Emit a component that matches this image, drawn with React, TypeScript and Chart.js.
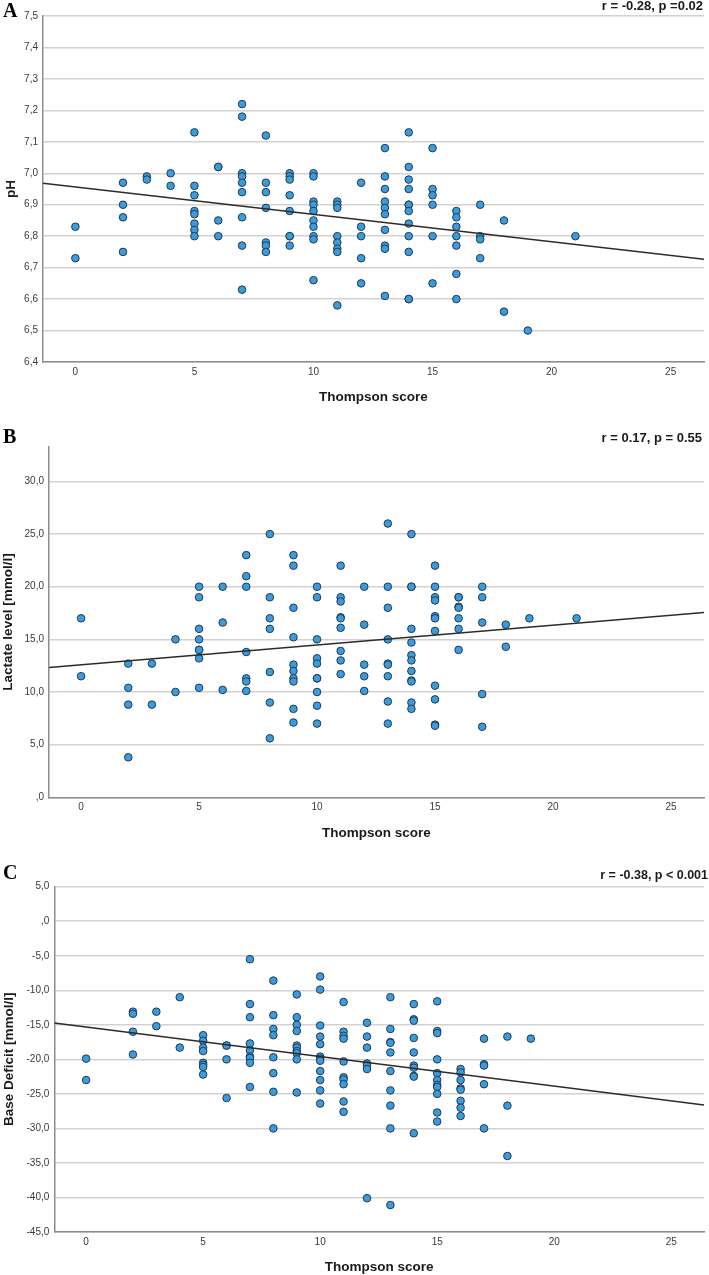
import React, { useEffect, useRef } from "react";
import { Chart, registerables } from "chart.js";

Chart.register(...registerables);

// ---------- shared x axis ----------
const xTickValues = [0, 5, 10, 15, 20, 25];
const xMin = -1.36;
const xMax = 26.4;

// ---------- Panel A: pH ----------
const phScores = [0, 2, 3, 4, 5, 6, 7, 8, 9, 10, 11, 12, 13, 14, 15, 16, 17, 18, 19, 21];
const phValues = [
  [6.83, 6.73],
  [6.97, 6.9, 6.86, 6.75],
  [6.99, 6.98],
  [7.0, 6.96],
  [7.13, 6.96, 6.93, 6.88, 6.87, 6.84, 6.82, 6.8],
  [7.02, 7.02, 6.85, 6.8],
  [7.22, 7.18, 7.0, 6.99, 6.97, 6.94, 6.86, 6.77, 6.63],
  [7.12, 6.97, 6.94, 6.89, 6.78, 6.77, 6.75],
  [7.0, 6.99, 6.98, 6.93, 6.88, 6.8, 6.8, 6.77],
  [7.0, 6.99, 6.91, 6.9, 6.88, 6.85, 6.83, 6.8, 6.79, 6.66],
  [6.91, 6.9, 6.89, 6.8, 6.78, 6.76, 6.75, 6.58],
  [6.97, 6.83, 6.8, 6.73, 6.65],
  [7.08, 6.99, 6.95, 6.91, 6.89, 6.87, 6.82, 6.77, 6.76, 6.61],
  [7.13, 7.02, 6.98, 6.95, 6.9, 6.9, 6.88, 6.84, 6.8, 6.75, 6.6, 6.6],
  [7.08, 6.95, 6.93, 6.9, 6.8, 6.65],
  [6.88, 6.86, 6.83, 6.8, 6.77, 6.68, 6.6],
  [6.9, 6.8, 6.79, 6.73],
  [6.85, 6.56],
  [6.5],
  [6.8],
];
const phFitX = [-1.36, 26.4];
const phFitY = [6.968, 6.727];
const phTicks = [6.4, 6.5, 6.6, 6.7, 6.8, 6.9, 7.0, 7.1, 7.2, 7.3, 7.4, 7.5];
const phStat = "r = -0.28, p =0.02";

// ---------- Panel B: Lactate ----------
const lacScores = [0, 2, 3, 4, 5, 6, 7, 8, 9, 10, 11, 12, 13, 14, 15, 16, 17, 18, 19, 21];
const lacValues = [
  [17.0, 11.5],
  [12.7, 10.4, 8.8, 3.8],
  [12.7, 8.8],
  [15.0, 10.0],
  [20.0, 19.0, 16.0, 15.0, 14.0, 14.0, 13.2, 10.4],
  [20.0, 16.6, 10.2],
  [23.0, 21.0, 20.0, 13.8, 11.3, 11.0, 10.1],
  [25.0, 19.0, 17.0, 16.0, 11.9, 9.0, 5.6],
  [23.0, 22.0, 18.0, 15.2, 12.6, 12.0, 11.3, 11.0, 8.4, 7.1],
  [20.0, 19.0, 15.0, 13.2, 12.7, 11.3, 11.3, 10.0, 8.7, 7.0],
  [22.0, 19.0, 18.6, 17.1, 17.0, 16.1, 13.9, 13.0, 11.7],
  [20.0, 16.4, 12.6, 11.5, 10.1],
  [26.0, 20.0, 18.0, 15.0, 12.7, 12.6, 11.5, 9.1, 7.0],
  [25.0, 20.0, 20.0, 16.0, 14.7, 13.5, 13.0, 12.0, 11.1, 11.0, 9.0, 8.4],
  [22.0, 20.0, 19.0, 18.7, 17.2, 17.0, 15.8, 10.6, 9.3, 6.9, 6.8],
  [19.0, 19.0, 18.1, 18.0, 17.0, 16.0, 14.0],
  [20.0, 19.0, 16.6, 9.8, 6.7],
  [16.4, 14.3],
  [17.0],
  [17.0],
];
const lacFitX = [-1.36, 26.4];
const lacFitY = [12.32, 17.55];
const lacTicks = [0, 5, 10, 15, 20, 25, 30];
const lacStat = "r = 0.17, p = 0.55";

// ---------- Panel C: Base deficit ----------
const bdScores = [0, 2, 3, 4, 5, 6, 7, 8, 9, 10, 11, 12, 13, 14, 15, 16, 17, 18, 19];
const bdValues = [
  [-19.9, -23.0],
  [-13.1, -13.4, -16.0, -19.3],
  [-13.1, -15.2],
  [-11.0, -18.3],
  [-16.5, -17.3, -18.3, -18.8, -20.5, -20.8, -21.1, -22.2],
  [-18.0, -18.0, -20.0, -25.6],
  [-5.5, -12.0, -13.9, -17.7, -18.7, -19.6, -19.8, -20.5, -24.0],
  [-8.6, -13.6, -15.6, -16.5, -19.7, -22.0, -24.7, -30.0],
  [-10.6, -13.9, -15.0, -15.9, -18.0, -18.3, -18.8, -19.1, -20.0, -24.8],
  [-8.0, -9.9, -15.1, -16.7, -17.8, -19.6, -19.9, -20.2, -21.7, -23.0, -24.5, -26.4],
  [-11.7, -16.0, -16.6, -17.0, -20.3, -22.6, -22.9, -23.6, -26.1, -27.6],
  [-14.7, -16.7, -18.3, -20.6, -20.9, -21.4, -40.1],
  [-11.0, -15.6, -17.5, -17.6, -19.0, -21.7, -24.5, -26.7, -30.0, -41.1],
  [-12.0, -14.2, -14.4, -16.9, -19.0, -20.9, -21.2, -22.4, -22.5, -30.7],
  [-11.6, -15.9, -16.2, -20.0, -22.0, -23.0, -23.7, -24.0, -25.0, -27.7, -29.0],
  [-21.4, -21.9, -23.0, -24.2, -24.4, -26.0, -27.0, -28.2],
  [-17.0, -20.7, -20.9, -23.6, -30.0],
  [-16.7, -26.7, -34.0],
  [-17.0],
];
const bdFitX = [-1.36, 26.4];
const bdFitY = [-14.74, -26.6];
const bdTicks = [-45, -40, -35, -30, -25, -20, -15, -10, -5, 0, 5];
const bdStat = "r = -0.38, p < 0.001";

const FONT = "'Liberation Sans', Arial, Helvetica, sans-serif";

function fmtTick(v: number): string {
  let s = v.toFixed(1).replace(".", ",");
  if (s.startsWith("0,")) s = s.slice(1);
  if (s.startsWith("-0,")) s = "-" + s.slice(2);
  return s;
}

type PanelProps = {
  top: number;
  height: number;
  scores: number[];
  values: number[][];
  fitX: number[];
  fitY: number[];
  yTicks: number[];
  yMin: number;
  yMax: number;
  yTitle: string;
  padTop: number;
  yAxisWidth: number;
  xAxisHeight: number;
  yTitlePad: number;
  xTitlePad: number;
};

function ScatterPanel(p: PanelProps) {
  const ref = useRef<HTMLCanvasElement | null>(null);
  useEffect(() => {
    if (!ref.current) return;
    const points = p.scores.flatMap((s, i) => p.values[i].map((v) => ({ x: s, y: v })));
    const fit = p.fitX.map((x, i) => ({ x, y: p.fitY[i] }));
    const chart = new Chart(ref.current, {
      type: "scatter",
      data: {
        datasets: [
          {
            type: "line",
            data: fit,
            borderColor: "#2b2b2b",
            borderWidth: 1.5,
            pointRadius: 0,
            fill: false,
            order: 0,
          } as any,
          {
            type: "scatter",
            data: points,
            backgroundColor: "#3c9bd8",
            borderColor: "#1d3a58",
            borderWidth: 1,
            pointRadius: 3.8,
            order: 1,
          },
        ],
      },
      options: {
        responsive: false,
        animation: false,
        events: [],
        layout: { padding: { top: p.padTop, right: 1, left: 0, bottom: 0 } },
        plugins: { legend: { display: false }, tooltip: { enabled: false }, title: { display: false } },
        scales: {
          x: {
            type: "linear",
            min: xMin,
            max: xMax,
            afterBuildTicks: (scale: any) => {
              scale.ticks = xTickValues.map((v) => ({ value: v }));
            },
            afterFit: (scale: any) => {
              scale.height = p.xAxisHeight;
            },
            grid: { display: true, drawOnChartArea: false, drawTicks: false },
            border: { display: true, color: "#8d8d8d", width: 1.5 },
            ticks: {
              padding: 4,
              color: "#3a3a3a",
              font: { family: FONT, size: 10 },
              maxRotation: 0,
              callback: (v: any) => String(v),
            },
            title: {
              display: true,
              text: "Thompson score",
              color: "#1a1a1a",
              font: { family: FONT, size: 13.5, weight: "bold" },
              padding: { top: 0, bottom: p.xTitlePad },
            },
          },
          y: {
            type: "linear",
            min: p.yMin,
            max: p.yMax,
            afterBuildTicks: (scale: any) => {
              scale.ticks = p.yTicks.map((v) => ({ value: v }));
            },
            afterFit: (scale: any) => {
              scale.width = p.yAxisWidth;
            },
            grid: { color: "#d2d2d2", lineWidth: 1.5, drawTicks: false },
            border: { display: true, color: "#8d8d8d", width: 1.5 },
            ticks: {
              padding: 5,
              color: "#3a3a3a",
              font: { family: FONT, size: 10 },
              callback: (v: any) => fmtTick(Number(v)),
            },
            title: {
              display: true,
              text: p.yTitle,
              color: "#1a1a1a",
              font: { family: FONT, size: 13.5, weight: "bold" },
              padding: { top: p.yTitlePad, bottom: 0 },
            },
          },
        },
      },
    } as any);
    return () => chart.destroy();
  }, []);
  return (
    <canvas
      ref={ref}
      width={709}
      height={p.height}
      style={{ position: "absolute", left: 0, top: p.top, width: 709, height: p.height, display: "block" }}
    />
  );
}

const letterStyle: React.CSSProperties = {
  position: "absolute",
  left: 3,
  fontFamily: "'Liberation Serif', 'Times New Roman', serif",
  fontWeight: "bold",
  fontSize: 20,
  lineHeight: "20px",
  color: "#000",
};

const statStyle: React.CSSProperties = {
  position: "absolute",
  fontFamily: FONT,
  fontWeight: "bold",
  fontSize: 13,
  lineHeight: "13px",
  color: "#1a1a1a",
  whiteSpace: "nowrap",
};

export default function App() {
  return (
    <div style={{ position: "absolute", left: 0, top: 0, width: 709, height: 1275, background: "#fff", overflow: "hidden" }}>
      <ScatterPanel
        top={0}
        height={410}
        scores={phScores}
        values={phValues}
        fitX={phFitX}
        fitY={phFitY}
        yTicks={phTicks}
        yMin={6.4}
        yMax={7.5}
        yTitle="pH"
        padTop={16}
        yAxisWidth={43}
        xAxisHeight={48}
        yTitlePad={3}
        xTitlePad={5}
      />
      <ScatterPanel
        top={420}
        height={425}
        scores={lacScores}
        values={lacValues}
        fitX={lacFitX}
        fitY={lacFitY}
        yTicks={lacTicks}
        yMin={0}
        yMax={33.3}
        yTitle="Lactate level [mmol/l]"
        padTop={26.7}
        yAxisWidth={49}
        xAxisHeight={47.7}
        yTitlePad={0.5}
        xTitlePad={4}
      />
      <ScatterPanel
        top={845}
        height={430}
        scores={bdScores}
        values={bdValues}
        fitX={bdFitX}
        fitY={bdFitY}
        yTicks={bdTicks}
        yMin={-45}
        yMax={5}
        yTitle="Base Deficit [mmol/l]"
        padTop={41.7}
        yAxisWidth={54.3}
        xAxisHeight={43}
        yTitlePad={1.5}
        xTitlePad={0}
      />
      <div style={{ ...letterStyle, top: 0 }}>A</div>
      <div style={{ ...letterStyle, top: 426 }}>B</div>
      <div style={{ ...letterStyle, top: 862 }}>C</div>
      <div style={{ ...statStyle, top: -1, right: 6 }}>{phStat}</div>
      <div style={{ ...statStyle, top: 431, right: 7 }}>{lacStat}</div>
      <div style={{ ...statStyle, top: 869, right: 1, fontSize: 12.5 }}>{bdStat}</div>
    </div>
  );
}
